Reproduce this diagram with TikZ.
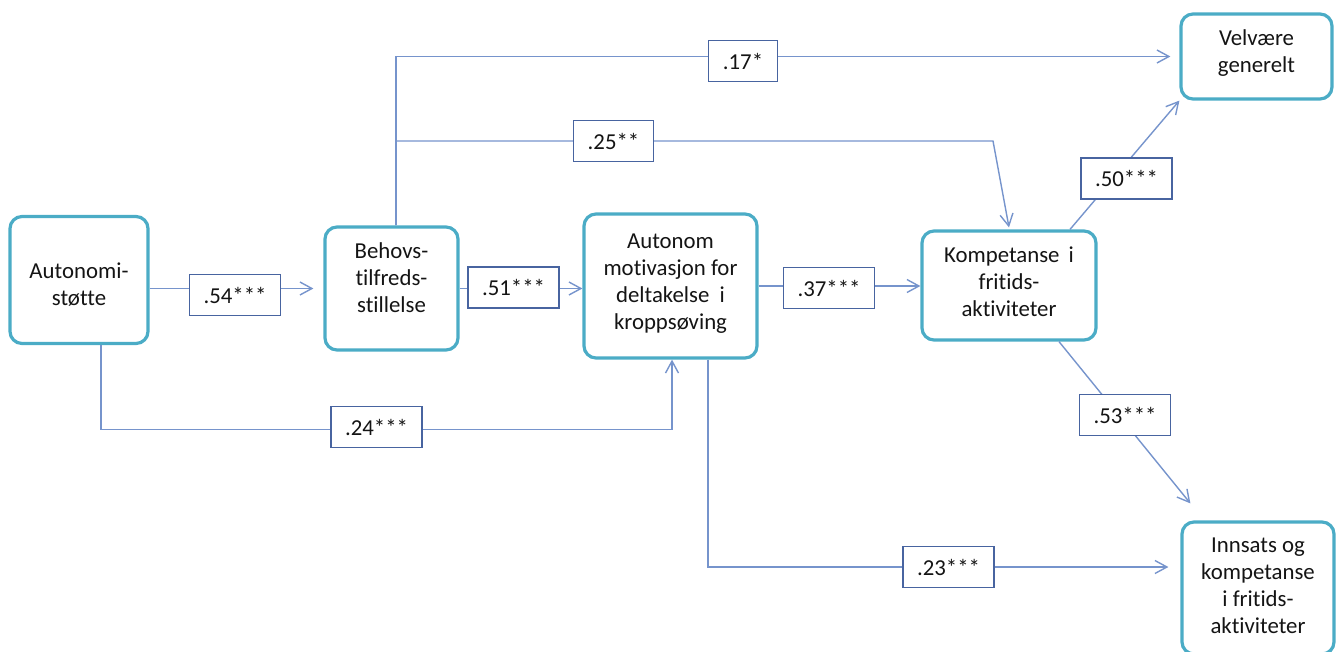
\documentclass[tikz,border=0pt]{standalone}
\usepackage{fontspec}
\setmainfont{Carlito}[Ligatures=NoCommon]
\usetikzlibrary{arrows.meta,calc}
\definecolor{boxc}{RGB}{75,172,198}
\definecolor{linec}{RGB}{118,148,204}
\definecolor{labc}{RGB}{72,100,160}
\definecolor{txt}{RGB}{20,20,20}
\newcommand\mlines[2]{\raisebox{#1}[\height][\depth]{\begin{tabular}{@{}c@{}}#2\end{tabular}}}
\tikzset{
  mainbox/.style={draw=boxc, line width=3.2pt, rounded corners=12pt, fill=white,
    text=txt, font=\fontsize{22.8}{27}\selectfont, inner sep=0pt},
  conn/.style={draw=linec, line width=1.4pt, -{Straight Barb[length=12pt,width=13pt,line width=1.4pt]}},
  labbox/.style={draw=labc, line width=1.1pt, fill=white, text=txt,
    font=\fontsize{22.8}{27}\selectfont, inner xsep=14pt, inner ysep=0pt,
    minimum height=41pt}
}
\begin{document}
\begin{tikzpicture}[x=1pt,y=-1pt]
\useasboundingbox (0,0) rectangle (1336,651);
% main nodes
\node[mainbox, minimum width=138pt, minimum height=127pt] (auto) at (79,280) {\mlines{-7pt}{Autonomi-\\støtte}};
\node[mainbox, minimum width=133pt, minimum height=123pt] (behov) at (391.5,288.5) {\mlines{8pt}{Behovs-\\tilfreds-\\stillelse}};
\node[mainbox, minimum width=173pt, minimum height=144pt] (motiv) at (670.5,286) {\mlines{2pt}{Autonom\\motivasjon for\\deltakelse\hspace{0.45em}i\\kroppsøving}};
\node[mainbox, minimum width=174pt, minimum height=109pt] (komp) at (1009,285.5) {\mlines{1pt}{Kompetanse\hspace{0.4em}i\\fritids-\\aktiviteter}};
\node[mainbox, minimum width=151pt, minimum height=85pt] (velv) at (1256.5,56.5) {\mlines{3pt}{Velvære\\generelt}};
\node[mainbox, minimum width=152pt, minimum height=132pt] (inns) at (1258,588) {\mlines{0pt}{Innsats og\\kompetanse\\i fritids-\\aktiviteter}};
% helper coordinates
\coordinate (br) at ($(behov.north)+(4.5,-90)$);
\coordinate (bend25) at (993,141);
% connectors
\draw[conn] (auto.east |- behov.west) -- ([xshift=-10pt]behov.west);
\draw[conn] (behov.east) -- (behov.east -| motiv.west);
\draw[conn] (motiv.east) -- (motiv.east -| komp.west);
\draw[conn] ([xshift=22pt]auto.south) |- ([xshift=1.5pt,yshift=-70pt]motiv.south) -- ([xshift=1.5pt]motiv.south);
\draw[conn, shorten >=9pt] ([xshift=4.5pt]behov.north) |- (velv.west);
\draw[conn] (behov.north -| br) |- (bend25) -- ([yshift=2pt]komp.north);
\draw[conn] ([xshift=61pt]komp.north) -- (velv.south west);
\draw[conn] ([xshift=50pt]komp.south) -- ([shift={(10,-17)}]inns.north west);
\draw[conn, shorten >=12pt] ([xshift=37.5pt]motiv.south) |- ([yshift=21pt]inns.west);
% labels
\node[labbox] (l54) at (235,295) {.54***};
\node[labbox] (l51) at (513.5,287.5) {.51***};
\node[labbox] (l37) at (829,288) {.37***};
\node[labbox] (l24) at (376.5,427) {.24***};
\node[labbox] (l17) at (743,61) {.17*};
\node[labbox] (l25) at (613.5,141) {.25**};
\node[labbox] (l50) at (1126.5,178.5) {.50***};
\node[labbox] (l53) at (1125,415) {.53***};
\node[labbox] (l23) at (948.5,567) {.23***};
\end{tikzpicture}
\end{document}
